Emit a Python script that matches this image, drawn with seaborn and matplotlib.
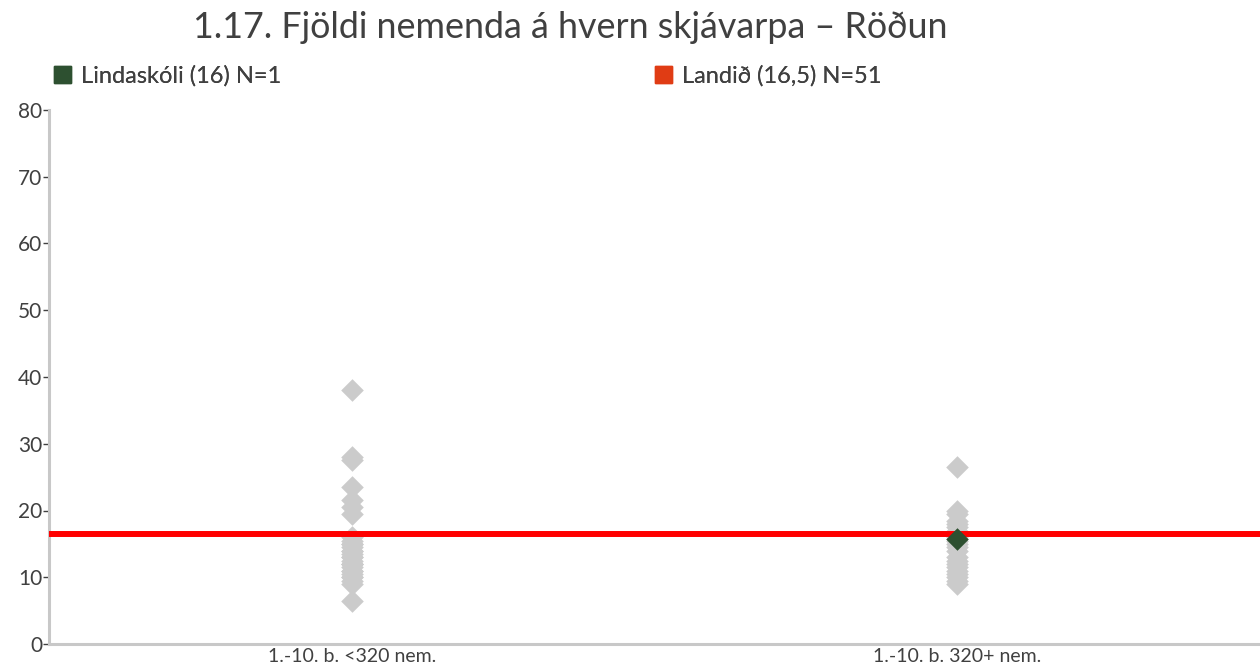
import pandas as pd
import numpy as np
import seaborn as sns
import matplotlib.pyplot as plt
from matplotlib.patches import Patch


# values
categories = ["1.-10. b. <320 nem.", "1.-10. b. 320+ nem."]

small_schools = [38, 28, 27.5, 23.5, 21.5, 20.5, 19.5, 16, 15.5, 15, 14.5, 14,
                 13.5, 13, 12.5, 12, 12, 11.5, 11, 10.5, 10, 9.5, 9, 14, 13,
                 12, 11, 10, 15, 6.5]
large_schools = [26.5, 20, 19.5, 18.5, 18, 17.5, 17, 16, 15.5, 15, 14.5, 14,
                 13, 12.5, 12, 11.5, 11, 10.5, 10, 9.5, 9]

school_name = "Lindaskóli"
school_group = categories[1]
school_value = [15.7]

national_value = 16.5
legend_labels = ["Lindaskóli (16) N=1", "Landið (16,5) N=51"]
legend_colors = ["#2d5030", "#e03c14"]
title = "1.17. Fjöldi nemenda á hvern skjávarpa – Röðun"

df = pd.DataFrame(
    {
        "group": [categories[0]] * len(small_schools) + [categories[1]] * len(large_schools),
        "value": small_schools + large_schools,
    }
)
school_df = pd.DataFrame({"group": [school_group], "value": school_value})

sns.set_style("white")
plt.rcParams["font.family"] = ["Lato", "DejaVu Sans"]
text_col = "#404040"

fig = plt.figure(figsize=(12.6, 6.72), dpi=100)
ax = fig.add_axes([49 / 1260, 1 - 644 / 672, 1 - 49 / 1260, (644 - 110) / 672])

sns.stripplot(data=df, x="group", y="value", order=categories, color="#cbcbcb",
              marker="D", size=11.5, jitter=False, linewidth=0, ax=ax, zorder=2)
ax.axhline(national_value, color="#ff0000", lw=4.3, zorder=3)
sns.stripplot(data=school_df, x="group", y="value", order=categories, color="#2d5030",
              marker="D", size=11.5, jitter=False, linewidth=0, ax=ax, zorder=4)

ax.set_xlim(-0.5, 1.5)
ax.set_ylim(0, 80)
ax.set_yticks(range(0, 81, 10))
ax.set_xlabel("")
ax.set_ylabel("")
sns.despine(ax=ax)
for side in ["left", "bottom"]:
    ax.spines[side].set_color("#c8c8c8")
    ax.spines[side].set_linewidth(2.2)
ax.tick_params(axis="y", length=4, width=1, color=text_col, labelsize=15,
               labelcolor=text_col, pad=1, left=True)
ax.tick_params(axis="x", length=0, labelsize=14, labelcolor=text_col, pad=3)

fig.text(193 / 1260, 1 - 27 / 672, title, fontsize=25.8, color=text_col,
         ha="left", va="center")

# two legend entries, placed like the reference
for (lbl, col, x0) in zip(legend_labels, legend_colors, [54, 655]):
    leg = fig.legend([Patch(color=col)], [lbl], loc="center left",
                     bbox_to_anchor=(x0 / 1260, 1 - 76 / 672), frameon=False,
                     fontsize=17, handlelength=0.7, handleheight=0.7,
                     handletextpad=0.45, borderaxespad=0, borderpad=0,
                     labelcolor=text_col)
    fig.add_artist(leg)

fig.savefig("out.png", dpi=100)
